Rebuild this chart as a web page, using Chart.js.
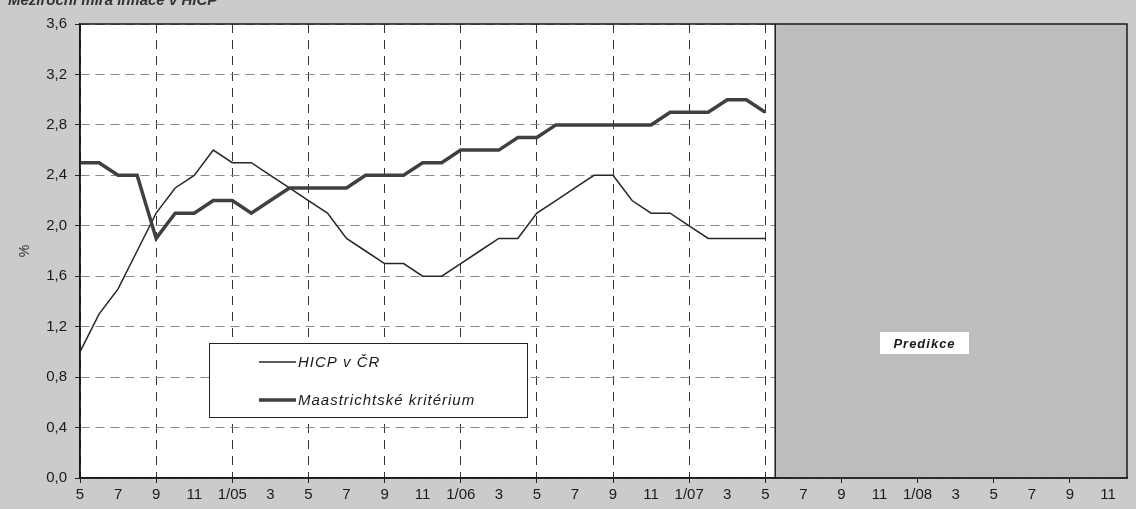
<!DOCTYPE html>
<html>
<head>
<meta charset="utf-8">
<title>HICP v ČR a Maastrichtské kritérium</title>
<script src="https://cdn.jsdelivr.net/npm/chart.js@4.4.1/dist/chart.umd.min.js"></script>
<style>
  html, body { margin: 0; padding: 0; background: #cbcbcb; }
  #wrap { position: relative; width: 1136px; height: 509px; overflow: hidden; }
  #title { position: absolute; left: 8px; top: -9px; font: italic bold 15px "Liberation Sans", Arial, sans-serif; color: #333; white-space: nowrap; }
  canvas { position: absolute; left: 0; top: 0; }
</style>
</head>
<body>
<div id="wrap">
  <canvas id="chart" width="1136" height="509"></canvas>
  <div id="title">Meziroční míra inflace v HICP</div>
</div>
<script>
// Months 5/2004 .. 12/2008
const months = [
  "5", "6", "7", "8", "9", "10", "11", "12",
  "1/05", "2", "3", "4", "5", "6", "7", "8", "9", "10", "11", "12",
  "1/06", "2", "3", "4", "5", "6", "7", "8", "9", "10", "11", "12",
  "1/07", "2", "3", "4", "5", "6", "7", "8", "9", "10", "11", "12",
  "1/08", "2", "3", "4", "5", "6", "7", "8", "9", "10", "11", "12"
];

// HICP v ČR (%), 5/04 .. 5/07
const hicp = [
  1.0, 1.3, 1.5, 1.8, 2.1, 2.3, 2.4, 2.6,
  2.5, 2.5, 2.4, 2.3, 2.2, 2.1, 1.9, 1.8, 1.7, 1.7, 1.6, 1.6,
  1.7, 1.8, 1.9, 1.9, 2.1, 2.2, 2.3, 2.4, 2.4, 2.2, 2.1, 2.1,
  2.0, 1.9, 1.9, 1.9, 1.9
];

// Maastrichtské kritérium (%), 5/04 .. 5/07
const maastricht = [
  2.5, 2.5, 2.4, 2.4, 1.9, 2.1, 2.1, 2.2,
  2.2, 2.1, 2.2, 2.3, 2.3, 2.3, 2.3, 2.4, 2.4, 2.4, 2.5, 2.5,
  2.6, 2.6, 2.6, 2.7, 2.7, 2.8, 2.8, 2.8, 2.8, 2.8, 2.8, 2.9,
  2.9, 2.9, 3.0, 3.0, 2.9
];

// Prediction period band (6/07 .. 12/08), full height of the axis
const prediction = [
  null, null, null, null, null, null, null, null,
  null, null, null, null, null, null, null, null, null, null, null, null,
  null, null, null, null, null, null, null, null, null, null, null, null,
  null, null, null, null, null,
  3.6, 3.6, 3.6, 3.6, 3.6, 3.6, 3.6,
  3.6, 3.6, 3.6, 3.6, 3.6, 3.6, 3.6, 3.6, 3.6, 3.6, 3.6, 3.6
];

const FONT = '"Liberation Sans", Arial, sans-serif';
Chart.defaults.font.family = FONT;
Chart.defaults.font.size = 15;
Chart.defaults.color = "#1a1a1a";

const firstPred = prediction.findIndex(v => v !== null);

// white plot area, frame, legend box and the "Predikce" label
const plotFrame = {
  id: "plotFrame",
  beforeDraw(chart) {
    const { ctx, chartArea: a } = chart;
    ctx.save();
    ctx.fillStyle = "#ffffff";
    ctx.fillRect(a.left, a.top, a.right - a.left, a.bottom - a.top);
    ctx.restore();
  },
  afterDatasetsDraw(chart) {
    const { ctx, chartArea: a } = chart;
    ctx.save();

    // frame around the plot
    ctx.strokeStyle = "#1a1a1a";
    ctx.lineWidth = 1.5;
    ctx.strokeRect(a.left, a.top, a.right - a.left, a.bottom - a.top);

    // legend
    const bx = a.left + 129, by = a.top + 319, bw = 318, bh = 74;
    ctx.fillStyle = "#ffffff";
    ctx.fillRect(bx, by, bw, bh);
    ctx.strokeStyle = "#222";
    ctx.lineWidth = 1;
    ctx.strokeRect(bx + 0.5, by + 0.5, bw, bh);

    const rows = [by + 19, by + 57];
    chart.data.datasets.filter(d => d.type !== "bar").forEach((ds, k) => {
      const y = rows[k];
      ctx.strokeStyle = ds.borderColor;
      ctx.lineWidth = ds.borderWidth;
      ctx.beginPath();
      ctx.moveTo(bx + 50, y);
      ctx.lineTo(bx + 87, y);
      ctx.stroke();
      ctx.font = "italic 15px " + FONT;
      ctx.letterSpacing = "1px";
      ctx.textBaseline = "middle";
      ctx.textAlign = "left";
      ctx.fillStyle = "#1a1a1a";
      ctx.fillText(ds.label, bx + 89, y + 1);
    });

    // Predikce label
    const px = 880, py = 332, pw = 89, ph = 22;
    ctx.fillStyle = "#ffffff";
    ctx.fillRect(px, py, pw, ph);
    ctx.font = "italic bold 13px " + FONT;
    ctx.letterSpacing = "1px";
    ctx.textAlign = "center";
    ctx.textBaseline = "middle";
    ctx.fillStyle = "#1a1a1a";
    ctx.fillText("Predikce", px + pw / 2, py + ph / 2 + 1);

    ctx.restore();
  }
};

new Chart(document.getElementById("chart"), {
  type: "line",
  data: {
    labels: months,
    datasets: [
      {
        label: "HICP v ČR",
        data: hicp,
        borderColor: "#262626",
        borderWidth: 1.5,
        pointRadius: 0,
        tension: 0,
        order: 2
      },
      {
        label: "Maastrichtské kritérium",
        data: maastricht,
        borderColor: "#404040",
        borderWidth: 3.5,
        pointRadius: 0,
        tension: 0,
        order: 1
      },
      {
        type: "bar",
        label: "Predikce",
        data: prediction,
        backgroundColor: "#bdbdbd",
        borderColor: "#222",
        borderWidth: c => c.dataIndex === firstPred ? { left: 2, right: 0, top: 0, bottom: 0 } : 0,
        borderSkipped: false,
        categoryPercentage: 1,
        barPercentage: 1.06,
        clip: 0,
        order: 3
      }
    ]
  },
  options: {
    responsive: false,
    animation: false,
    layout: { padding: { top: 24, right: 9, bottom: 0, left: 0 } },
    plugins: { legend: { display: false }, tooltip: { enabled: false } },
    scales: {
      x: {
        type: "category",
        offset: false,
        grid: {
          offset: false,
          color: c => c.index % 4 === 0 ? "#333" : "rgba(0,0,0,0)",
          tickColor: c => c.index % 4 === 0 ? "#222" : "rgba(0,0,0,0)",
          lineWidth: 1,
          tickLength: 5
        },
        border: { display: true, color: "#111", width: 1.5, dash: [9, 7] },
        ticks: {
          autoSkip: false,
          maxRotation: 0,
          minRotation: 0,
          padding: 3,
          color: "#1a1a1a",
          callback: (v, i) => i % 2 === 0 ? months[i] : ""
        },
        afterFit: s => { s.height = 31; }
      },
      y: {
        min: 0,
        max: 3.6,
        grid: { color: "#8a8a8a", tickColor: "#222", lineWidth: 1, tickLength: 5 },
        border: { display: true, color: "#111", width: 1.5, dash: [9, 6] },
        ticks: {
          stepSize: 0.4,
          padding: 8,
          color: "#1a1a1a",
          callback: v => v.toFixed(1).replace(".", ",")
        },
        title: {
          display: true,
          text: "%",
          font: { size: 14 },
          color: "#333",
          padding: { top: 17, bottom: 0 }
        },
        afterFit: s => { s.width = 80; }
      }
    }
  },
  plugins: [plotFrame]
});
</script>
</body>
</html>
